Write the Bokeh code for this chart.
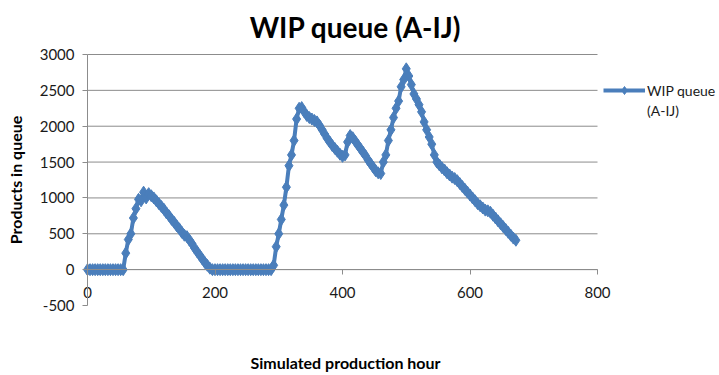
from bokeh.plotting import figure
from bokeh.models import Range1d, FixedTicker, Legend, LegendItem, Label
from bokeh.embed import file_html
from bokeh.resources import INLINE

# ---- data ----
hours = list(range(0, 676, 4))
wip = [
    0, 0, 0, 0, 0, 0, 0, 0, 0, 0, 0, 0, 0, 0, 0,             # 0-56
    230, 420, 500, 720, 850, 980, 960, 1080, 1000, 1060,     # 60-96
    1030, 1000, 960, 920, 880, 840, 790, 750, 700, 660,      # 100-136
    610, 570, 520, 480, 460, 410, 360, 300, 250, 200,        # 140-176
    150, 100, 60, 20, 0,                                     # 180-196
    0, 0, 0, 0, 0, 0, 0, 0, 0, 0, 0, 0,                      # 200-244
    0, 0, 0, 0, 0, 0, 0, 0, 0, 0, 0,                         # 248-288
    60, 320, 500, 700, 900, 1150, 1450, 1600, 1800, 2100,    # 292-328
    2250, 2260, 2200, 2150, 2120, 2100, 2080, 2060, 2010, 1950,  # 332-368
    1890, 1830, 1780, 1730, 1690, 1650, 1610, 1580, 1600, 1780,  # 372-408
    1870, 1840, 1790, 1740, 1690, 1640, 1590, 1530, 1480, 1430,  # 412-448
    1380, 1350, 1340, 1500, 1600, 1800, 1950, 2120, 2250, 2350,  # 452-488
    2550, 2650, 2800, 2700, 2580, 2450, 2380, 2300, 2200, 2060,  # 492-528
    1950, 1850, 1750, 1600, 1500, 1460, 1420, 1390, 1350, 1320,  # 532-568
    1290, 1270, 1240, 1200, 1160, 1120, 1080, 1040, 1000, 960,   # 572-608
    920, 890, 860, 830, 820, 800, 760, 720, 680, 640,            # 612-648
    600, 560, 520, 480, 440, 410,                                # 652-672
]
x_ticks = [0, 200, 400, 600, 800]
y_ticks = [-500, 0, 500, 1000, 1500, 2000, 2500, 3000]
y_grid = [0, 500, 1000, 1500, 2000, 2500, 3000]
y_tick_labels = {t: str(t) for t in y_ticks}

title_text = "WIP queue (A-IJ)"
x_label = "Simulated production hour"
y_label = "Products in queue"
series_name = "WIP queue"
series_name_2 = "(A-IJ)"

FONT = "Lato"
BLUE = "#4a7ebb"
GRID = "#8c8c8c"
TXT = "#1a1a1a"

W, H = 719, 375
# plot-area placement (pixels) in the canvas
PL, PR, PT, PB = 87, 597, 54, 305
XMIN, XMAX = x_ticks[0], x_ticks[-1]
YMIN, YMAX = y_ticks[0], y_ticks[-1]
sx = (PR - PL) / (XMAX - XMIN)
sy = (PB - PT) / (YMAX - YMIN)


def px_x(px):
    return XMIN + (px - PL) / sx


def px_y(py):
    return YMIN + (PB - py) / sy


p = figure(width=W, height=H, output_backend="svg", toolbar_location=None,
           x_range=Range1d(px_x(0), px_x(W)), y_range=Range1d(px_y(H), px_y(0)),
           min_border=0, min_border_left=0, min_border_right=0,
           min_border_top=0, min_border_bottom=0)
p.outline_line_color = None
p.background_fill_color = "white"
p.border_fill_color = "white"
p.xgrid.grid_line_color = None
p.ygrid.grid_line_color = None

# horizontal grid lines limited to the plot area
p.segment(x0=[XMIN] * len(y_grid), x1=[XMAX] * len(y_grid), y0=y_grid, y1=y_grid,
          line_color=GRID, line_width=1)

# y axis at x = 0
p.yaxis.fixed_location = XMIN
p.yaxis.bounds = (YMIN, YMAX)
p.yaxis.ticker = FixedTicker(ticks=y_ticks)
p.yaxis.major_label_overrides = y_tick_labels
p.yaxis.minor_tick_line_color = None
p.yaxis.major_tick_in = 0
p.yaxis.major_tick_out = 5
p.yaxis.axis_line_color = GRID
p.yaxis.major_tick_line_color = GRID
p.yaxis.major_label_text_font = FONT
p.yaxis.major_label_text_font_size = "15px"
p.yaxis.major_label_text_color = TXT
p.yaxis.major_label_standoff = 8
p.yaxis.axis_label = y_label
p.yaxis.axis_label_text_font = FONT
p.yaxis.axis_label_text_font_size = "16px"
p.yaxis.axis_label_text_font_style = "bold"
p.yaxis.axis_label_text_color = "#000000"
p.yaxis.axis_label_standoff = 12

# x axis crossing at y = 0
p.xaxis.fixed_location = 0
p.xaxis.bounds = (XMIN, XMAX)
p.xaxis.ticker = FixedTicker(ticks=x_ticks)
p.xaxis.minor_tick_line_color = None
p.xaxis.major_tick_in = 0
p.xaxis.major_tick_out = 5
p.xaxis.axis_line_color = GRID
p.xaxis.major_tick_line_color = GRID
p.xaxis.major_label_text_font = FONT
p.xaxis.major_label_text_font_size = "15px"
p.xaxis.major_label_text_color = TXT
p.xaxis.major_label_standoff = 12

# title and x-axis title
p.add_layout(Label(x=px_x(355), y=px_y(26), text=title_text, text_font=FONT,
                   text_font_size="28px", text_font_style="bold", text_color="#000000",
                   text_align="center", text_baseline="middle"))
p.add_layout(Label(x=px_x(345), y=px_y(362), text=x_label, text_font=FONT,
                   text_font_size="16px", text_font_style="bold", text_color="#000000",
                   text_align="center", text_baseline="middle"))

ln = p.line(hours, wip, line_color=BLUE, line_width=4)
mk = p.scatter(hours, wip, marker="diamond", size=12, fill_color=BLUE, line_color=BLUE)
blank = p.line([], [], line_alpha=0)

legend = Legend(items=[LegendItem(label=series_name, renderers=[ln, mk]),
                       LegendItem(label=series_name_2, renderers=[blank])],
                location=(603, 375 - 120), border_line_color=None, background_fill_alpha=0,
                glyph_width=42, glyph_height=20, label_height=20, label_text_font=FONT,
                label_text_font_size="14px", label_text_color=TXT,
                padding=0, margin=0, spacing=0, label_standoff=2)
p.add_layout(legend, "center")

open("out.html", "w").write(file_html(p, INLINE))
